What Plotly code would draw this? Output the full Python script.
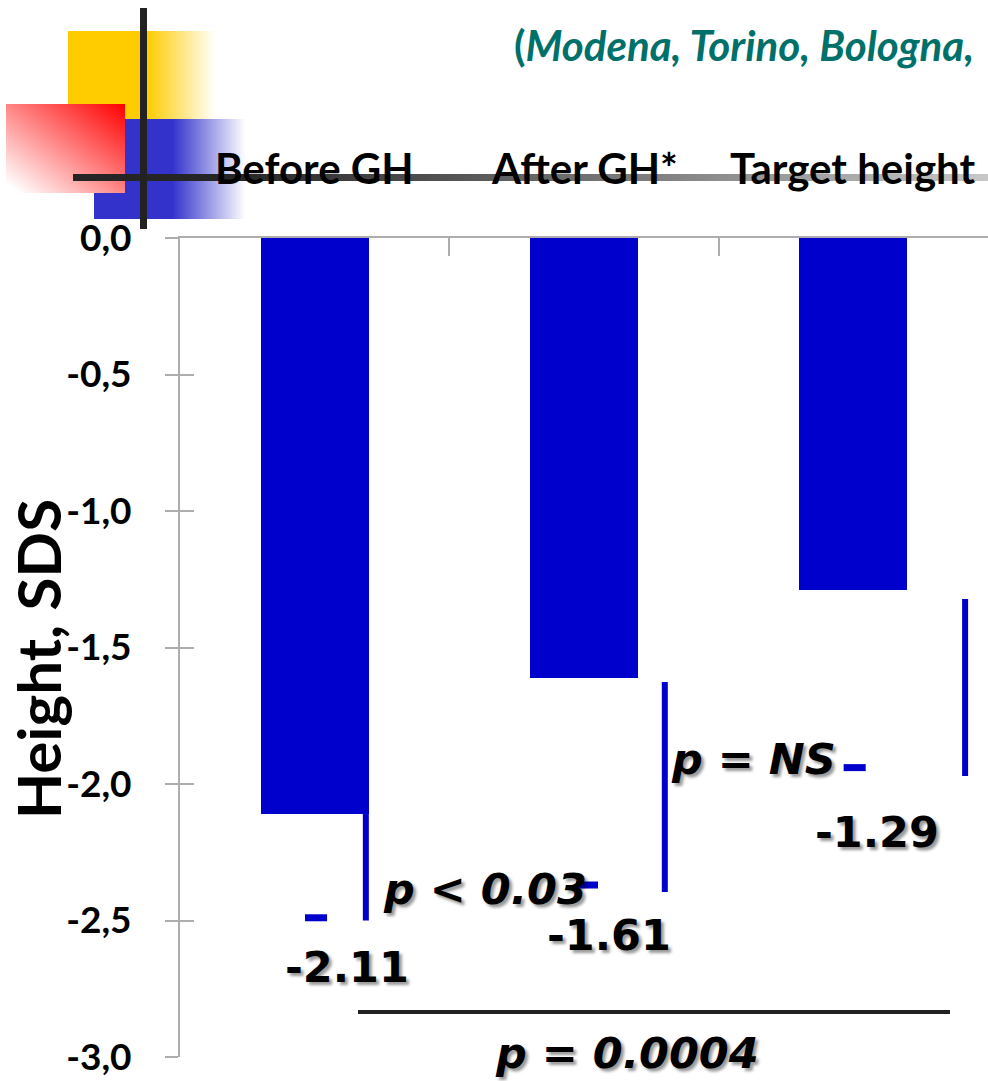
import base64, struct, zlib
import plotly.graph_objects as go

# ---------------- data ----------------
categories = ["Before GH", "After GH*", "Target height"]
height_sds = [-2.11, -1.61, -1.29]
value_labels = ["-2.11", "-1.61", "-1.29"]
err_top = [-2.11, -1.626, -1.322]
err_low = [-2.50, -2.396, -1.971]
sd_marker = [-2.49, -2.37, -1.94]
p_labels = ["p < 0.03", "p = NS", "p = 0.0004"]
y_tickvals = [0.0, -0.5, -1.0, -1.5, -2.0, -2.5, -3.0]
y_ticktext = ["0,0", "-0,5", "-1,0", "-1,5", "-2,0", "-2,5", "-3,0"]
subtitle = "(<i>Modena, Torino, Bologna,</i>"

# ---------------- geometry helpers ----------------
W, H = 988, 1081
L, R, T, B = 180, 0, 238, 24
PW, PH = W - L - R, H - T - B


def px2x(px):
    return (px - L) / PW * 3 - 0.5


def px2y(py):
    return -(py - T) / PH * 3


def pxx(px):
    return (px - L) / PW


def pxy(py):
    return (H - B - py) / PH


# ---------------- decoration image (pure python PNG) ----------------
def png_uri(w, h, fn):
    raw = bytearray()
    for y in range(h):
        raw.append(0)
        for x in range(w):
            raw.extend(fn(x, y))

    def chunk(tag, data):
        return (struct.pack(">I", len(data)) + tag + data +
                struct.pack(">I", zlib.crc32(tag + data) & 0xFFFFFFFF))

    png = (b"\x89PNG\r\n\x1a\n" +
           chunk(b"IHDR", struct.pack(">IIBBBBB", w, h, 8, 6, 0, 0, 0)) +
           chunk(b"IDAT", zlib.compress(bytes(raw), 9)) +
           chunk(b"IEND", b""))
    return "data:image/png;base64," + base64.b64encode(png).decode()


def mix(c1, c2, t):
    t = max(0.0, min(1.0, t))
    return tuple(int(round(a + (b - a) * t)) for a, b in zip(c1, c2))


WHITE = (255, 255, 255)
YEL = (255, 204, 0)
BLU = (51, 51, 204)
RED = (255, 0, 0)
DARK = (34, 34, 34)


def deco(x, y):
    col = None
    if 68 <= x < 215 and 31 <= y < 119:
        col = mix(YEL, WHITE, (x - 147) / (215 - 147)) if x >= 147 else YEL
    if 94 <= x < 245 and 119 <= y < 219:
        col = mix(BLU, WHITE, (x - 172) / (245 - 172)) if x >= 172 else BLU
    if 6 <= x < 125 and 104 <= y < 193:
        t = ((124 - x) / 118 + (y - 104) / 88) / 2
        col = mix(RED, WHITE, t * 1.05)
    if 174 <= y < 181 and x >= 73:
        g = 37 if x < 230 else 37 + (200 - 37) * (x - 230) / (988 - 230)
        col = (int(g), int(g), int(g))
    if 140 <= x < 147 and 8 <= y < 229:
        col = DARK
    if col is None:
        return (255, 255, 255, 0)
    return (col[0], col[1], col[2], 255)


deco_uri = png_uri(W, 232, deco)

BAR = "#0000CC"
AX = "#ADADAD"

fig = go.Figure()

fig.add_trace(go.Bar(
    x=[0, 1, 2], y=height_sds, width=0.40,
    marker=dict(color=BAR, line=dict(width=0)),
    hoverinfo="skip", showlegend=False,
))

# misaligned SD lines (as in the original slide)
err_offsets = [0.19, 0.30, 0.415]
ex, ey = [], []
for i in range(3):
    ex += [i + err_offsets[i], i + err_offsets[i], None]
    ey += [err_top[i], err_low[i], None]
fig.add_trace(go.Scatter(x=ex, y=ey, mode="lines",
                         line=dict(color=BAR, width=6),
                         hoverinfo="skip", showlegend=False))

dash_offsets = [0.005, 0.011, 0.005]
dx, dy = [], []
for i in range(3):
    c = i + dash_offsets[i]
    dx += [c - 0.041, c + 0.041, None]
    dy += [sd_marker[i], sd_marker[i], None]
fig.add_trace(go.Scatter(x=dx, y=dy, mode="lines",
                         line=dict(color=BAR, width=7),
                         hoverinfo="skip", showlegend=False))

# phantom trace for the overlaying y axis (crossing ticks)
fig.add_trace(go.Scatter(x=[None], y=[None], yaxis="y2", showlegend=False,
                         hoverinfo="skip"))

annotations = []
shadow = "3px 3px 3px rgba(0,0,0,0.4)"
val_font = dict(family="DejaVu Sans", size=43, color="black", weight="bold",
                shadow=shadow)
p_font = dict(family="DejaVu Sans", size=43, color="black", weight="bold",
              style="italic", shadow=shadow)

# value labels
val_pos = [(347, 967), (609, 935), (877, 832)]
for (px, py), txt in zip(val_pos, value_labels):
    annotations.append(dict(x=px2x(px), y=px2y(py), xref="x", yref="y",
                            text="<b>%s</b>" % txt, showarrow=False,
                            xanchor="center", yanchor="middle", font=val_font))

# p-value labels
p_pos = [(485, 889), (753, 759), (627, 1053)]
for (px, py), txt in zip(p_pos, p_labels):
    annotations.append(dict(x=px2x(px), y=px2y(py), xref="x", yref="y",
                            text="<b><i>%s</i></b>" % txt, showarrow=False,
                            xanchor="center", yanchor="middle", font=p_font))

# category labels on top
for i, c in enumerate(categories):
    annotations.append(dict(x=i, y=pxy(168), xref="x", yref="paper",
                            text=c, showarrow=False, xanchor="center",
                            yanchor="middle",
                            font=dict(family="Lato", size=42, color="black",
                                      weight="bold")))

# y-axis title
annotations.append(dict(x=pxx(38), y=pxy(659), xref="paper", yref="paper",
                        text="<b>Height, SDS</b>", textangle=-90,
                        showarrow=False, xanchor="center", yanchor="middle",
                        borderpad=0,
                        font=dict(family="Lato", size=60, color="black")))

# subtitle
annotations.append(dict(x=pxx(976), y=pxy(45), xref="paper", yref="paper",
                        text="<b>" + subtitle + "</b>", showarrow=False,
                        xanchor="right", yanchor="middle",
                        font=dict(family="Lato", size=42, color="#00706A")))

shapes = [dict(type="line", xref="x", yref="y",
               x0=px2x(358), x1=px2x(950), y0=px2y(1012), y1=px2y(1012),
               line=dict(color="#222222", width=4))]

fig.update_layout(
    width=W, height=H,
    margin=dict(l=L, r=R, t=T, b=B, pad=0),
    paper_bgcolor="white", plot_bgcolor="white",
    showlegend=False,
    bargap=0,
    xaxis=dict(range=[-0.5, 2.5], side="top", showgrid=False, zeroline=False,
               showline=True, linecolor=AX, linewidth=2,
               tickvals=[0.5, 1.5], ticktext=["", ""], ticks="inside",
               ticklen=18, tickwidth=2, tickcolor=AX, fixedrange=True),
    yaxis=dict(range=[-3, 0], showgrid=False, zeroline=False,
               showline=True, linecolor=AX, linewidth=2,
               tickvals=y_tickvals, ticktext=y_ticktext, ticks="outside",
               ticklen=13, tickwidth=2, tickcolor=AX,
               ticklabelstandoff=26,
               tickfont=dict(family="Lato", size=37, color="black",
                             weight="bold"), fixedrange=True),
    yaxis2=dict(range=[-3, 0], overlaying="y", side="left", anchor="x",
                showgrid=False, zeroline=False, showline=False,
                tickvals=y_tickvals, ticks="inside", ticklen=14, tickwidth=2,
                tickcolor=AX, showticklabels=False, fixedrange=True),
    annotations=annotations,
    shapes=shapes,
    images=[dict(source=deco_uri, xref="paper", yref="paper",
                 x=pxx(0), y=pxy(0), sizex=W / PW, sizey=232 / PH,
                 xanchor="left", yanchor="top", sizing="stretch",
                 layer="below")],
)

fig.write_html("out.html")
